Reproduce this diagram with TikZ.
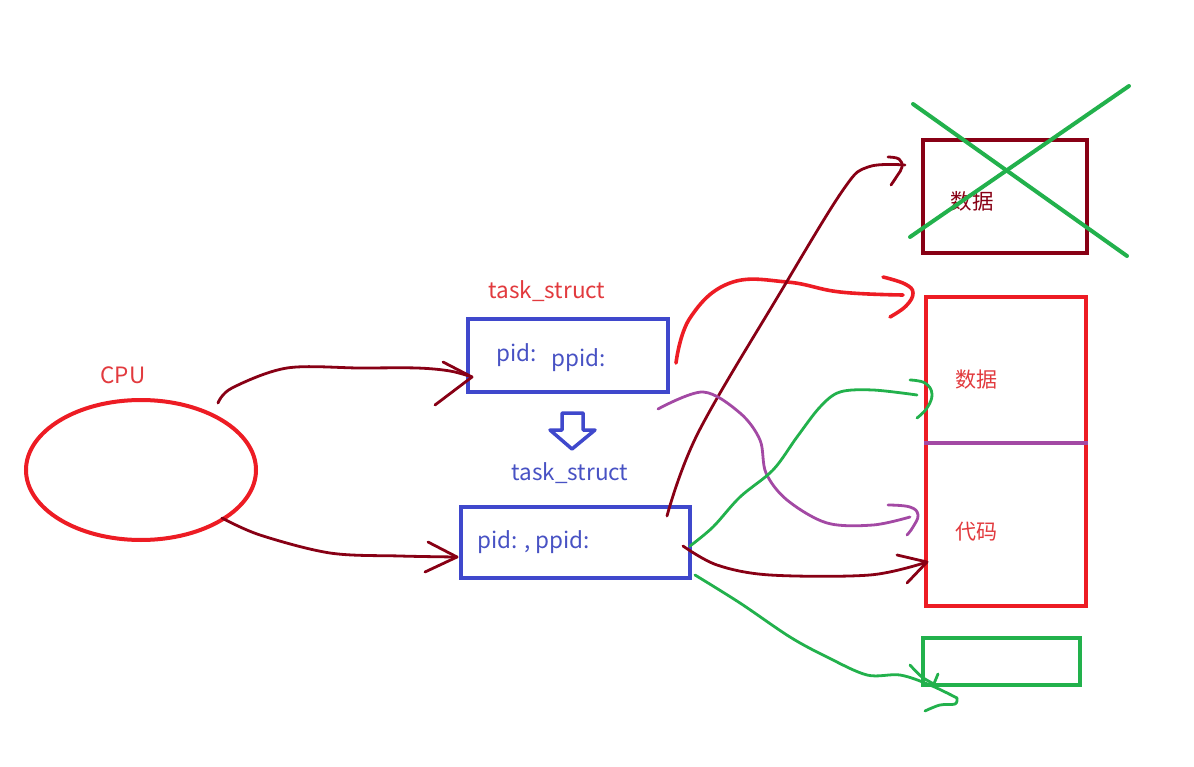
\documentclass[tikz,border=0pt]{standalone}
\usepackage{fontspec}
\setmainfont{Noto Sans CJK SC}
\usetikzlibrary{shapes.geometric}
\definecolor{pred}{RGB}{237,28,36}
\definecolor{pdark}{RGB}{136,0,21}
\definecolor{pblue}{RGB}{63,72,204}
\definecolor{pgreen}{RGB}{34,177,76}
\definecolor{ppurple}{RGB}{163,73,164}
\definecolor{tred}{RGB}{226,58,62}
\definecolor{tblue}{RGB}{72,82,196}
\tikzset{
  box/.style={draw, rectangle, line width=4pt, inner sep=0pt},
  lbl/.style={inner sep=0pt, font=\fontsize{22.5}{22.5}\selectfont},
  pen/.style={line width=2.8pt, line cap=round, line join=round},
}
\begin{document}
\begin{tikzpicture}[x=1pt,y=-1pt]
\useasboundingbox[fill=white] (0,0) rectangle (1194,767);
% nodes
\node[draw=pred, ellipse, line width=4pt, minimum width=230pt, minimum height=140pt] (cpu) at (141,470) {};
\node[lbl, text=tred] (cpul) at (123,375) {CPU};
\node[box, draw=pblue, minimum width=200pt, minimum height=73pt] (b1) at (568,355.5) {};
\node[lbl, text=tred] (t1) at (547,291) {task\_struct};
\node[lbl, text=tblue] (pid1) at (517,355) {pid:};
\node[lbl, text=tblue] (ppid1) at (579,360) {ppid:};
\node[lbl, text=tblue] (t2) at (570,473) {task\_struct};
\node[box, draw=pblue, minimum width=229pt, minimum height=71pt] (b2) at (575.5,542.5) {};
\node[lbl, text=tblue, anchor=west] (pid2) at (477,542) {pid: , ppid:};
\node[box, draw=pdark, minimum width=164pt, minimum height=113pt] (old) at (1005,196.5) {};
\node[lbl, text=pdark, font=\fontsize{21.5}{21.5}\selectfont] (oldl) at (972,201) {数据};
\node[box, draw=pred, minimum width=160pt, minimum height=309pt] (mem) at (1006,451.5) {};
\node[lbl, text=tred, font=\fontsize{21}{21}\selectfont] (datl) at (976,380) {数据};
\node[lbl, text=tred, font=\fontsize{21}{21}\selectfont] (codl) at (976,532) {代码};
\node[box, draw=pgreen, minimum width=157pt, minimum height=47pt] (gb) at (1001.5,661.5) {};
% divider in memory box
\draw[ppurple, line width=4pt] (mem.west |- 0,443) -- (mem.east |- 0,443);
% hollow arrow
\draw[pblue, line width=3.5pt, line join=round] (562,413) -- (583,413) -- (583,430) -- (595,430) -- (572,449) -- (550,430) -- (562,430) -- cycle;
% green cross
\draw[pgreen, line width=4pt, line cap=round] (913,104) -- (1127,256);
\draw[pgreen, line width=4pt, line cap=round] (910,237) -- (1129,86);
% connector endpoints
\coordinate (s1) at (218,403);
\coordinate (e1) at (472,377);
\coordinate (s2) at (222,518);
\coordinate (e2) at (457,557);
\coordinate (s3) at (676,363);
\coordinate (e3) at (903,295);
\coordinate (s4) at (667,516);
\coordinate (e4) at (905,165);
\coordinate (s5) at (658,409);
\coordinate (e5) at (910,517);
\coordinate (s6) at (690,546);
\coordinate (e6) at (917,395);
\coordinate (s7) at (683,546);
\coordinate (e7) at (927,562);
\coordinate (s8) at (695,575);
\coordinate (e8) at (957,698);
% CPU -> task_struct 1
\draw[pen, pdark] plot[smooth, tension=0.55] coordinates {(s1) (232,388) (287,368) (360,368) (417,368) (450,371) (e1)};
\draw[pen, pdark] (443,362) -- (e1) -- (435,405);
% CPU -> task_struct 2
\draw[pen, pdark] plot[smooth, tension=0.55] coordinates {(s2) (260,535) (330,553) (400,556) (e2)};
\draw[pen, pdark] (428,542) -- (e2) -- (425,572);
% box1 -> data (red)
\draw[pen, pred, line width=3.6pt] plot[smooth, tension=0.7] coordinates {(s3) (690,318) (730,283) (787,282) (840,292) (e3)};
\draw[pen, pred, line width=3.6pt] plot[smooth, tension=0.7] coordinates {(883,277) (905,284) (913,293) (906,306) (890,317)};
% box2 -> old data (dark red)
\draw[pen, pdark] plot[smooth, tension=0.6] coordinates {(s4) (698,433) (780,293) (843,190) (868,167) (e4)};
\draw[pen, pdark] plot[smooth, tension=0.7] coordinates {(888,157) (899,159) (902,167) (897,176) (891,185)};
% box1 -> code (purple)
\draw[pen, ppurple] plot[smooth, tension=0.55] coordinates {(s5) (703,392) (740,413) (760,440) (766,473) (787,500) (827,523) (873,525) (e5)};
\draw[pen, ppurple] plot[smooth, tension=0.7] coordinates {(888,505) (910,507) (918,515) (913,527) (907,535)};
% box2 -> data (green)
\draw[pen, pgreen] plot[smooth, tension=0.55] coordinates {(s6) (713,527) (740,497) (773,470) (797,437) (820,407) (840,392) (873,390) (e6)};
\draw[pen, pgreen] plot[smooth, tension=0.7] coordinates {(910,380) (925,383) (932,394) (927,408) (917,418)};
% box2 -> code (dark red)
\draw[pen, pdark] plot[smooth, tension=0.55] coordinates {(s7) (717,565) (770,575) (870,575) (e7)};
\draw[pen, pdark] (897,555) -- (e7) -- (907,583);
% box2 -> green box (green)
\draw[pen, pgreen] plot[smooth, tension=0.55] coordinates {(s8) (740,603) (790,637) (827,657) (867,675) (900,675) (930,685) (e8)};
\draw[pen, pgreen] plot[smooth, tension=0.6] coordinates {(e8) (955,704) (940,705) (925,711)};
\draw[pen, pgreen] plot[smooth, tension=0.6] coordinates {(910,665) (922,677) (936,685)};
\draw[pen, pgreen] (938,674) -- (933,686);
\end{tikzpicture}
\end{document}
